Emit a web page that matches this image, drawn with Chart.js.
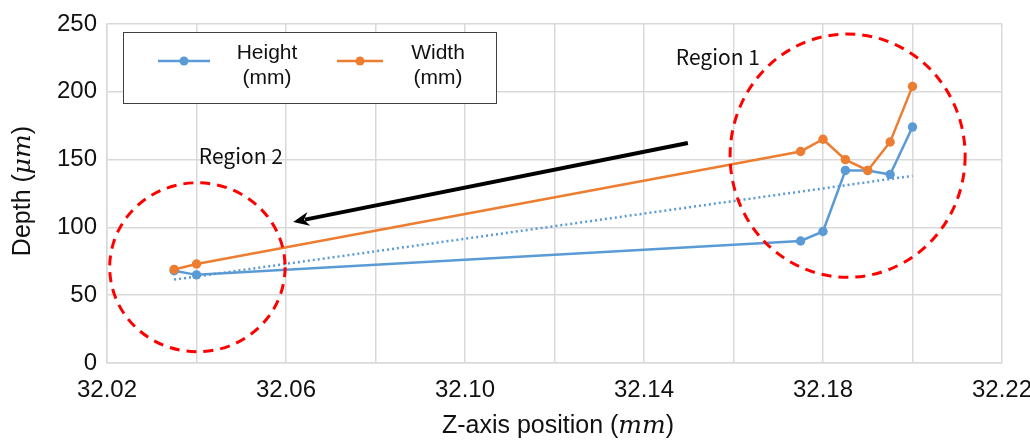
<!DOCTYPE html>
<html>
<head>
<meta charset="utf-8">
<script src="https://cdn.jsdelivr.net/npm/chart.js@4.4.1/dist/chart.umd.min.js"></script>
<style>
  body { margin: 0; background: #fff; }
  canvas { display: block; }
</style>
</head>
<body>
<canvas id="depthChart" width="1030" height="448"></canvas>
<script>
// z-axis positions (mm) and measured depths (um)
const xValues = [32.035, 32.04, 32.175, 32.18, 32.185, 32.19, 32.195, 32.20];
const heightValues = [68, 65, 90, 97, 142, 142, 139, 174];
const widthValues = [69, 73, 156, 165, 150, 142, 163, 204];

// linear trendline of the height series
const trendX = [32.035, 32.20];
const trendY = [61.5, 138];

const seriesNames = [["Height", "(mm)"], ["Width", "(mm)"]];
const xTickLabels = ["32.02", "32.06", "32.10", "32.14", "32.18", "32.22"];
const yTickValues = [0, 50, 100, 150, 200, 250];

// annotations in data units
const regions = [
  { label: "Region 1", cx: 32.1855, cy: 152.9, rx: 0.02626, ry: 89.7, lx: 32.1565, ly: 219.8 },
  { label: "Region 2", cx: 32.0402, cy: 70.6, rx: 0.0196, ry: 62.3, lx: 32.0499, ly: 146.8 }
];
const arrow = { x1: 32.1498, y1: 162.2, x2: 32.0616, y2: 104 };

const blue = "#5b9bd5";
const orange = "#ed7d31";
const sans = "'Liberation Sans', Arial, sans-serif";

function toPoints(xs, ys) {
  return xs.map((x, i) => ({ x: x, y: ys[i] }));
}

function drawParts(ctx, parts, x, y) {
  let total = 0;
  parts.forEach(p => { ctx.font = p.font; total += ctx.measureText(p.text).width; });
  let cx = x - total / 2;
  ctx.textAlign = "left";
  ctx.textBaseline = "alphabetic";
  parts.forEach(p => {
    ctx.font = p.font;
    ctx.fillText(p.text, cx, y);
    cx += ctx.measureText(p.text).width;
  });
}

const overlay = {
  id: "overlay",
  afterDatasetsDraw(chart) {
    const ctx = chart.ctx;
    const xs = chart.scales.x, ys = chart.scales.y;
    ctx.save();

    // dashed red circles
    ctx.strokeStyle = "#ff0000";
    ctx.lineWidth = 3;
    ctx.setLineDash([10, 7]);
    regions.forEach(r => {
      const px = xs.getPixelForValue(r.cx);
      const py = ys.getPixelForValue(r.cy);
      const rx = xs.getPixelForValue(r.cx + r.rx) - px;
      const ry = py - ys.getPixelForValue(r.cy + r.ry);
      ctx.beginPath();
      ctx.ellipse(px, py, rx, ry, 0, 0, Math.PI * 2);
      ctx.stroke();
    });
    ctx.setLineDash([]);

    // region labels
    ctx.fillStyle = "#111";
    ctx.font = "21px 'Noto Sans CJK KR', 'Noto Sans', sans-serif";
    ctx.textAlign = "center";
    ctx.textBaseline = "alphabetic";
    regions.forEach(r => {
      ctx.fillText(r.label, xs.getPixelForValue(r.lx), ys.getPixelForValue(r.ly));
    });

    // arrow
    const ax1 = xs.getPixelForValue(arrow.x1), ay1 = ys.getPixelForValue(arrow.y1);
    const ax2 = xs.getPixelForValue(arrow.x2), ay2 = ys.getPixelForValue(arrow.y2);
    const ang = Math.atan2(ay2 - ay1, ax2 - ax1);
    const headLen = 16, headW = 7;
    ctx.strokeStyle = "#000";
    ctx.fillStyle = "#000";
    ctx.lineWidth = 4;
    ctx.beginPath();
    ctx.moveTo(ax1, ay1);
    ctx.lineTo(ax2 - Math.cos(ang) * (headLen - 4), ay2 - Math.sin(ang) * (headLen - 4));
    ctx.stroke();
    ctx.beginPath();
    ctx.moveTo(ax2, ay2);
    ctx.lineTo(ax2 - Math.cos(ang) * headLen + Math.sin(ang) * headW,
               ay2 - Math.sin(ang) * headLen - Math.cos(ang) * headW);
    ctx.lineTo(ax2 - Math.cos(ang) * (headLen - 5), ay2 - Math.sin(ang) * (headLen - 5));
    ctx.lineTo(ax2 - Math.cos(ang) * headLen - Math.sin(ang) * headW,
               ay2 - Math.sin(ang) * headLen + Math.cos(ang) * headW);
    ctx.closePath();
    ctx.fill();
    ctx.restore();
  },
  afterDraw(chart) {
    const ctx = chart.ctx;
    ctx.save();

    // legend box
    ctx.fillStyle = "#fff";
    ctx.fillRect(123, 32, 374, 72);
    ctx.strokeStyle = "#404040";
    ctx.lineWidth = 1;
    ctx.strokeRect(123.5, 32.5, 373, 71);
    const items = [
      { color: blue, x1: 158, x2: 210, tx: 267, lines: seriesNames[0] },
      { color: orange, x1: 337, x2: 383, tx: 438, lines: seriesNames[1] }
    ];
    items.forEach(it => {
      ctx.strokeStyle = it.color;
      ctx.fillStyle = it.color;
      ctx.lineWidth = 2.5;
      ctx.beginPath();
      ctx.moveTo(it.x1, 61);
      ctx.lineTo(it.x2, 61);
      ctx.stroke();
      ctx.beginPath();
      ctx.arc((it.x1 + it.x2) / 2, 61, 4.5, 0, Math.PI * 2);
      ctx.fill();
      ctx.fillStyle = "#111";
      ctx.font = "21px " + sans;
      ctx.textAlign = "center";
      ctx.textBaseline = "alphabetic";
      ctx.fillText(it.lines[0], it.tx, 59);
      ctx.fillText(it.lines[1], it.tx, 84);
    });

    // axis titles with italic units
    ctx.fillStyle = "#111";
    const plain = "25px " + sans;
    const math = "italic 25px 'DejaVu Serif', serif";
    drawParts(ctx, [
      { text: "Z-axis position (", font: plain },
      { text: "mm", font: math },
      { text: ")", font: plain }
    ], 558, 433);

    ctx.translate(30, 191);
    ctx.rotate(-Math.PI / 2);
    drawParts(ctx, [
      { text: "Depth (", font: plain },
      { text: "\u03bcm", font: math },
      { text: ")", font: plain }
    ], 0, 0);
    ctx.restore();
  }
};

Chart.defaults.font.family = sans;
Chart.defaults.color = "#111";

new Chart(document.getElementById("depthChart"), {
  type: "scatter",
  data: {
    datasets: [
      {
        label: seriesNames[1].join(" "),
        data: toPoints(xValues, widthValues),
        showLine: true,
        borderColor: orange,
        backgroundColor: orange,
        borderWidth: 2.5,
        pointRadius: 4.7,
        pointBorderWidth: 0,
        order: 0
      },
      {
        label: seriesNames[0].join(" "),
        data: toPoints(xValues, heightValues),
        showLine: true,
        borderColor: blue,
        backgroundColor: blue,
        borderWidth: 2.5,
        pointRadius: 4.7,
        pointBorderWidth: 0,
        order: 1
      },
      {
        label: "Trend",
        data: toPoints(trendX, trendY),
        showLine: true,
        borderColor: blue,
        borderWidth: 2.5,
        borderDash: [2, 3],
        pointRadius: 0,
        order: 2
      }
    ]
  },
  options: {
    responsive: false,
    animation: false,
    devicePixelRatio: 1,
    layout: { padding: { left: 0, right: 28, top: 24, bottom: 0 } },
    plugins: { legend: { display: false }, tooltip: { enabled: false } },
    scales: {
      x: {
        type: "linear",
        min: 32.02,
        max: 32.22,
        afterFit: s => { s.height = 85; s.paddingLeft = 0; s.paddingRight = 0; },
        grid: { color: "#d9d9d9", lineWidth: 1.5, drawTicks: false },
        border: { color: "#d9d9d9", width: 1.5 },
        ticks: {
          stepSize: 0.02,
          padding: 13,
          maxRotation: 0,
          autoSkip: false,
          font: { size: 24 },
          callback: v => {
            const t = v.toFixed(2);
            return xTickLabels.includes(t) ? t : "";
          }
        }
      },
      y: {
        min: yTickValues[0],
        max: yTickValues[yTickValues.length - 1],
        afterFit: s => { s.width = 107; s.paddingTop = 0; s.paddingBottom = 0; },
        grid: { color: "#d9d9d9", lineWidth: 1.5, drawTicks: false },
        border: { color: "#d9d9d9", width: 1.5 },
        ticks: { stepSize: 50, padding: 10, font: { size: 24 } }
      }
    }
  },
  plugins: [overlay]
});
</script>
</body>
</html>
